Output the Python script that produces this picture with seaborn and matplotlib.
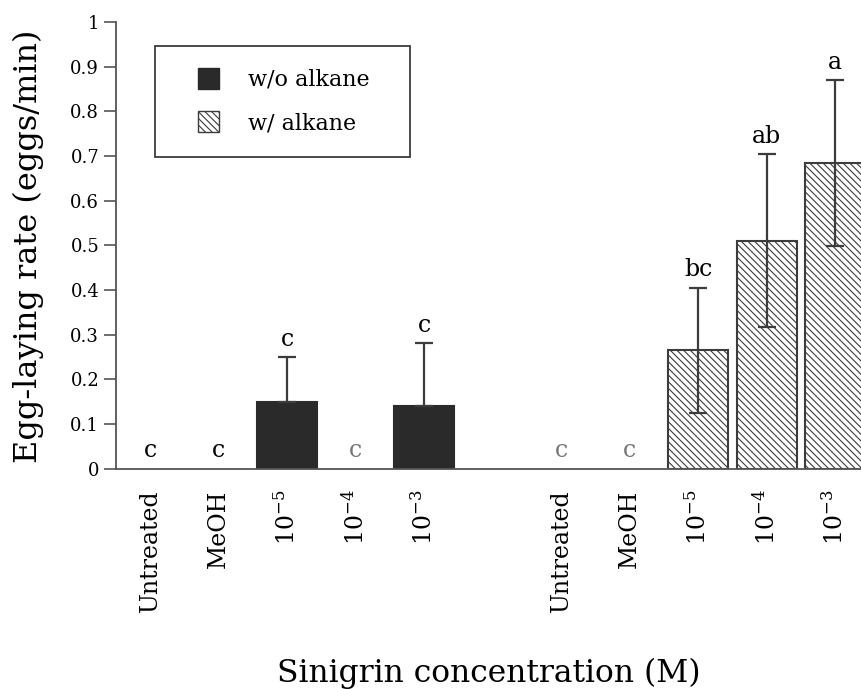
import numpy as np
import pandas as pd
import matplotlib
matplotlib.use("Agg")
import matplotlib.pyplot as plt
import seaborn as sns
from matplotlib.patches import Patch, Rectangle
from matplotlib.legend_handler import HandlerPatch

# ---------------- data ----------------
groups = ["w/o alkane", "w/ alkane"]
slot_keys = ["wo_untreated", "wo_meoh", "wo_1e-5", "wo_1e-4", "wo_1e-3", "gap",
             "w_untreated", "w_meoh", "w_1e-5", "w_1e-4", "w_1e-3"]
tick_labels = ["Untreated", "MeOH", "10$^{-5}$", "10$^{-4}$", "10$^{-3}$", "",
               "Untreated", "MeOH", "10$^{-5}$", "10$^{-4}$", "10$^{-3}$"]
wo_keys = ["wo_untreated", "wo_meoh", "wo_1e-5", "wo_1e-4", "wo_1e-3"]
w_keys = ["w_untreated", "w_meoh", "w_1e-5", "w_1e-4", "w_1e-3"]
wo_rate = [0.0, 0.0, 0.15, 0.0, 0.14]
wo_err = [0.0, 0.0, 0.10, 0.0, 0.14]
w_rate = [0.0, 0.0, 0.265, 0.51, 0.684]
w_err = [0.0, 0.0, 0.14, 0.194, 0.185]
wo_letters = ["c", "c", "c", "c", "c"]
w_letters = ["c", "c", "bc", "ab", "a"]
y_ticks = [0.0, 0.1, 0.2, 0.3, 0.4, 0.5, 0.6, 0.7, 0.8, 0.9, 1.0]
y_tick_labels = ["0", "0.1", "0.2", "0.3", "0.4", "0.5", "0.6", "0.7", "0.8", "0.9", "1"]
x_title = "Sinigrin concentration (M)"
y_title = "Egg-laying rate (eggs/min)"

# ---------------- style ----------------
sns.set_style("white")
plt.rcParams["font.family"] = ["DejaVu Serif"]
plt.rcParams["mathtext.fontset"] = "dejavuserif"
plt.rcParams["hatch.linewidth"] = 0.8
plt.rcParams["text.color"] = "black"
plt.rcParams["axes.labelcolor"] = "black"

DARK = "#2a2a2a"
EDGE = "#3c3c3c"
AXC = "#555555"
letter_colors = {"wo": ["black", "black", "black", "#777777", "black"],
                 "w": ["#777777", "#777777", "black", "black", "black"]}

df = pd.DataFrame({
    "slot": wo_keys + w_keys,
    "group": [groups[0]] * len(wo_keys) + [groups[1]] * len(w_keys),
    "rate": wo_rate + w_rate,
})

W, H = 862, 689
fig = plt.figure(figsize=(W / 100, H / 100), dpi=100)
x0px, x1px, y0px, y1px = 116, 869.5, 468.5, 22
ax = fig.add_axes([x0px / W, (H - y0px) / H, (x1px - x0px) / W, (y0px - y1px) / H])

sns.barplot(data=df, x="slot", y="rate", hue="group", order=slot_keys,
            hue_order=groups, palette={groups[0]: DARK, groups[1]: "white"},
            dodge=False, width=0.87, saturation=1, edgecolor=EDGE,
            linewidth=1.5, errorbar=None, legend=False, ax=ax)

HATCH = "\\\\\\\\\\"
for p in ax.patches:
    if p.get_height() == 0:
        p.set_visible(False)
        continue
    fc = p.get_facecolor()
    if fc[0] > 0.9:
        p.set_hatch(HATCH)
        p.set_edgecolor(EDGE)
    else:
        p.set_edgecolor(DARK)

pos = {k: i for i, k in enumerate(slot_keys)}

# error bars (solid bars: only upper half visible)
for keys, rates, errs, lower in [(wo_keys, wo_rate, wo_err, False),
                                 (w_keys, w_rate, w_err, True)]:
    xs = [pos[k] for k, e in zip(keys, errs) if e > 0]
    ys = [r for r, e in zip(rates, errs) if e > 0]
    es = [e for e in errs if e > 0]
    lo = es if lower else [0] * len(es)
    ax.errorbar(xs, ys, yerr=[lo, es], fmt="none", ecolor=EDGE,
                elinewidth=1.6, capsize=6.5, capthick=1.6, zorder=5)

# significance letters
for keys, rates, errs, letters, cols in [
        (wo_keys, wo_rate, wo_err, wo_letters, letter_colors["wo"]),
        (w_keys, w_rate, w_err, w_letters, letter_colors["w"])]:
    for k, r, e, t, c in zip(keys, rates, errs, letters, cols):
        ax.text(pos[k], r + e + 0.04, t, ha="center", va="center",
                fontsize=17, color=c)

# axes
ax.set_xlim(-0.5, 10.5)
ax.set_ylim(0, 1)
ax.set_yticks(y_ticks)
ax.set_yticklabels(y_tick_labels)
ax.set_xticks(range(len(slot_keys)))
ax.set_xticklabels(tick_labels, rotation=90, fontsize=17)
ax.set_xticks(np.arange(-0.5, len(slot_keys), 1.0), minor=True)
ax.tick_params(axis="x", which="major", length=0, pad=15, labelcolor="black")
ax.tick_params(axis="x", which="minor", length=8.6, width=1.2, color=AXC,
               direction="out")
ax.tick_params(axis="y", length=8.6, width=1.2, color=AXC, pad=3.5,
               labelsize=13, direction="out", left=True, labelcolor="black")
for s in ["top", "right"]:
    ax.spines[s].set_visible(False)
for s in ["left", "bottom"]:
    ax.spines[s].set_color(AXC)
    ax.spines[s].set_linewidth(1.3)

ax.set_ylabel(y_title, fontsize=23)
ax.yaxis.label.set_va("center")
ax.yaxis.set_label_coords((28 - x0px) / (x1px - x0px), (y0px - 246) / (y0px - y1px))
ax.set_xlabel(x_title, fontsize=22.6)
ax.xaxis.label.set_va("center")
ax.xaxis.set_label_coords((489 - x0px) / (x1px - x0px), (y0px - 673) / (y0px - y1px))


# legend
def square(legend, orig_handle, xdescent, ydescent, width, height, fontsize):
    s = 0.95 * fontsize
    return Rectangle((-xdescent + width - s, -ydescent + height / 2 - s / 2), s, s)


handles = [Patch(facecolor=DARK, edgecolor=DARK, label=groups[0]),
           Patch(facecolor="white", edgecolor=EDGE, hatch=HATCH, label=groups[1])]
lx = (155 - x0px) / (x1px - x0px)
lw = (410 - 155) / (x1px - x0px)
ly = (y0px - 46) / (y0px - y1px)
leg = ax.legend(handles=handles, loc="upper left", bbox_to_anchor=(lx, ly, lw, 0),
                mode="expand", borderaxespad=0, fancybox=False, framealpha=1,
                edgecolor=EDGE, fontsize=16, borderpad=1.0, labelspacing=0.95,
                handlelength=1.89, handleheight=1.0, handletextpad=1.3,
                handler_map={Patch: HandlerPatch(patch_func=square)})
leg.get_frame().set_linewidth(1.3)
for t in leg.get_texts():
    t.set_color("black")

fig.savefig("out.png", dpi=100)
